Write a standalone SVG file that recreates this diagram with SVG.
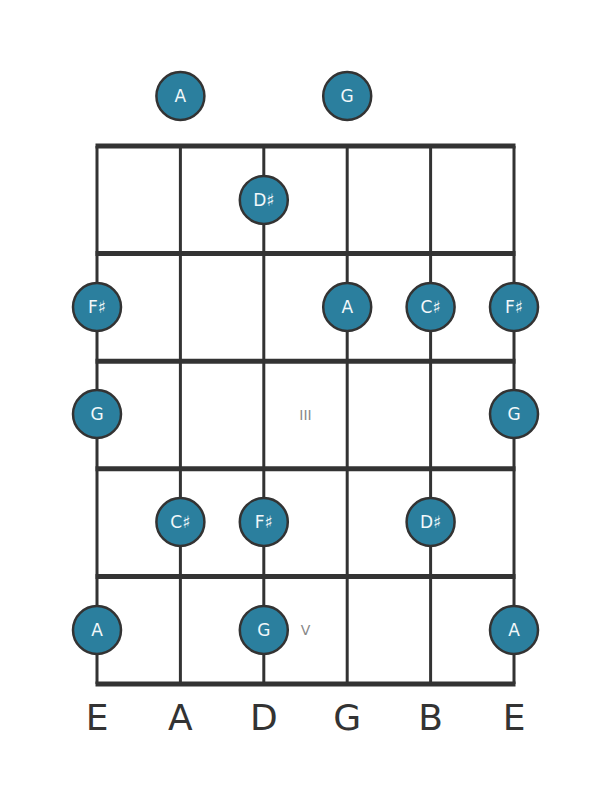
<svg xmlns="http://www.w3.org/2000/svg" width="611" height="801" viewBox="0 0 611 801">
<style>
.fret{stroke:#333;stroke-width:5;fill:none}
.str{stroke:#333;stroke-width:3;fill:none}
.note circle{fill:#2b7f9e;stroke:#333;stroke-width:2.5}
.note text{fill:#f2f8fa;font-family:"DejaVu Sans",sans-serif;font-size:17px;text-anchor:middle;dominant-baseline:central}
.lbl{fill:#333;font-family:"DejaVu Sans",sans-serif;font-size:36px;text-anchor:middle}
.fn{fill:#888;font-family:"DejaVu Sans",sans-serif;font-size:14px;text-anchor:middle;dominant-baseline:central}
</style>
<rect width="611" height="801" fill="#fff"/>
<g id="neck">
<line class="str" x1="97" y1="146" x2="97" y2="684"/>
<line class="str" x1="180.4" y1="146" x2="180.4" y2="684"/>
<line class="str" x1="263.8" y1="146" x2="263.8" y2="684"/>
<line class="str" x1="347.2" y1="146" x2="347.2" y2="684"/>
<line class="str" x1="430.6" y1="146" x2="430.6" y2="684"/>
<line class="str" x1="514" y1="146" x2="514" y2="684"/>
<line class="fret" x1="95.5" y1="146" x2="515.5" y2="146"/>
<line class="fret" x1="95.5" y1="253.6" x2="515.5" y2="253.6"/>
<line class="fret" x1="95.5" y1="361.2" x2="515.5" y2="361.2"/>
<line class="fret" x1="95.5" y1="468.8" x2="515.5" y2="468.8"/>
<line class="fret" x1="95.5" y1="576.4" x2="515.5" y2="576.4"/>
<line class="fret" x1="95.5" y1="684" x2="515.5" y2="684"/>
</g>
<g id="fret-numbers">
<text class="fn" x="305.5" y="415">III</text>
<text class="fn" x="305.5" y="630">V</text>
</g>
<g id="string-labels">
<text class="lbl" x="97" y="730">E</text>
<text class="lbl" x="180.4" y="730">A</text>
<text class="lbl" x="263.8" y="730">D</text>
<text class="lbl" x="347.2" y="730">G</text>
<text class="lbl" x="430.6" y="730">B</text>
<text class="lbl" x="514" y="730">E</text>
</g>
<g id="n-open-A" class="note"><circle cx="180.4" cy="96" r="24"/><text x="180.4" y="96">A</text></g>
<g id="n-open-G" class="note"><circle cx="347.2" cy="96" r="24"/><text x="347.2" y="96">G</text></g>
<g id="n-1-Ds" class="note"><circle cx="263.8" cy="200" r="24"/><text x="263.8" y="200">D♯</text></g>
<g id="n-2-Fs1" class="note"><circle cx="97" cy="307" r="24"/><text x="97" y="307">F♯</text></g>
<g id="n-2-A" class="note"><circle cx="347.2" cy="307" r="24"/><text x="347.2" y="307">A</text></g>
<g id="n-2-Cs" class="note"><circle cx="430.6" cy="307" r="24"/><text x="430.6" y="307">C♯</text></g>
<g id="n-2-Fs2" class="note"><circle cx="514" cy="307" r="24"/><text x="514" y="307">F♯</text></g>
<g id="n-3-G1" class="note"><circle cx="97" cy="414" r="24"/><text x="97" y="414">G</text></g>
<g id="n-3-G2" class="note"><circle cx="514" cy="414" r="24"/><text x="514" y="414">G</text></g>
<g id="n-4-Cs" class="note"><circle cx="180.4" cy="522" r="24"/><text x="180.4" y="522">C♯</text></g>
<g id="n-4-Fs" class="note"><circle cx="263.8" cy="522" r="24"/><text x="263.8" y="522">F♯</text></g>
<g id="n-4-Ds" class="note"><circle cx="430.6" cy="522" r="24"/><text x="430.6" y="522">D♯</text></g>
<g id="n-5-A1" class="note"><circle cx="97" cy="630" r="24"/><text x="97" y="630">A</text></g>
<g id="n-5-G" class="note"><circle cx="263.8" cy="630" r="24"/><text x="263.8" y="630">G</text></g>
<g id="n-5-A2" class="note"><circle cx="514" cy="630" r="24"/><text x="514" y="630">A</text></g>
</svg>
